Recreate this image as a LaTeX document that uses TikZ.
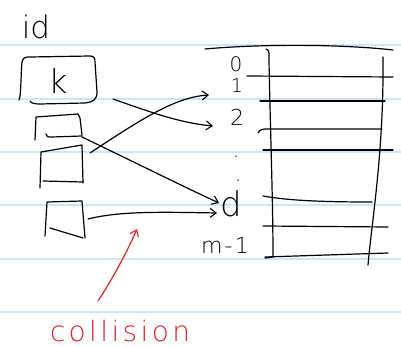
\documentclass[tikz,border=0pt]{standalone}
\usepackage{fontspec}
\usetikzlibrary{arrows.meta}
\newfontfamily\hand{DejaVu Sans ExtraLight}
\definecolor{rulecol}{RGB}{206,230,246}
\definecolor{inkred}{RGB}{232,30,40}
\begin{document}
\begin{tikzpicture}[x=1pt,y=-1pt,
  ink/.style={line width=1.2pt, line cap=round, line join=round},
  rule/.style={line width=1.3pt, color=rulecol},
  lab/.style={inner sep=0pt, font=\hand},
  arr/.style={ink, -{Straight Barb[length=6pt,width=9pt,line width=1.1pt]}},
  sz/.style={font=\hand\fontsize{#1}{#1}\selectfont}]
\useasboundingbox (0,0) rectangle (401,347);
\fill[white] (0,0) rectangle (401,347);
% ruled notebook lines
\foreach \y in {45,99,152,205,259,312} \draw[rule] (0,\y) -- (401,\y);

% key array
\node[lab, sz=31] (id) at (36,27) {id};
\node[lab, sz=33] (k) at (58,81) {k};
\draw[ink] (19,100) .. controls (21,98) and (21,70) .. (22,62) .. controls (23,57) and (26,57) .. (30,57) -- (90,56) .. controls (94,56) and (95,58) .. (95,62) -- (97,92) .. controls (97,100) and (93,102) .. (85,103) -- (40,104) .. controls (34,104) and (31,103) .. (30,101);
\draw[ink] (35,140) -- (36,117) -- (78,114) -- (80,118) -- (82,135);
\draw[ink] (46,134) .. controls (46,137) and (48,137) .. (52,137) -- (82,136);
\draw[ink] (40,188) -- (41,152) -- (82,145) -- (83,183);
\draw[ink] (43,181) -- (83,182);
\draw[ink] (45,236) -- (47,202) -- (82,201) -- (85,238);
\draw[ink] (50,228) -- (83,238);

% hash table
\draw[ink] (205,49) .. controls (260,44) and (340,44) .. (393,50);
\draw[ink] (266,49) .. controls (270,50) and (269,55) .. (269,60) .. controls (270,120) and (273,200) .. (273,257) -- (265,258);
\draw[ink] (383,57) .. controls (384,150) and (372,220) .. (368,265);
\draw[ink] (247,76) -- (393,77);
\draw[ink] (260,101) -- (385,101);
\draw[ink] (258,133) .. controls (260,129) and (263,129) .. (268,129) -- (382,129);
\draw[ink] (263,150) -- (393,150);
\draw[ink] (263,196) .. controls (290,201) and (330,202) .. (372,202);
\draw[ink] (263,226) -- (388,227);
\draw[ink] (265,257) -- (388,253);

% slot indices
\node[lab, sz=20] (l0) at (236,64) {0};
\node[lab, sz=19] (l1) at (237,86) {1};
\node[lab, sz=22] (l2) at (237,117) {2};
\node[lab, sz=22] (dotA) at (236,157) {.};
\node[lab, sz=22] (dotB) at (238,181) {.};
\node[lab, sz=34] (ld) at (231,204) {d};
\node[lab, font=\hand\fontsize{22}{22}\selectfont\addfontfeatures{LetterSpace=10}] (lm) at (225,245) {m-1};

% hashing arrows
\coordinate (kout) at (113,99);
\coordinate (b1out) at (82,137);
\coordinate (b2out) at (90,153);
\coordinate (b3out) at (88,219);
\coordinate (e1) at (209,95);
\coordinate (e2) at (213,126);
\coordinate (ed1) at (219,203);
\coordinate (ed3) at (217,213);
\draw[arr] (kout) .. controls (150,112) and (180,123) .. (e2);
\draw[arr] (b2out) .. controls (140,120) and (175,97) .. (e1);
\draw[arr] (b1out) .. controls (130,160) and (180,185) .. (ed1);
\draw[arr] (b3out) .. controls (120,211) and (160,212) .. (ed3);

% collision note
\node[lab, text=inkred, font=\hand\fontsize{28}{28}\selectfont\addfontfeatures{LetterSpace=12}] (col) at (120,331) {collision};
\coordinate (cstart) at (98,301);
\coordinate (ctip) at (137,229);
\draw[arr, inkred] (cstart) .. controls (112,280) and (128,250) .. (ctip);
\end{tikzpicture}
\end{document}
